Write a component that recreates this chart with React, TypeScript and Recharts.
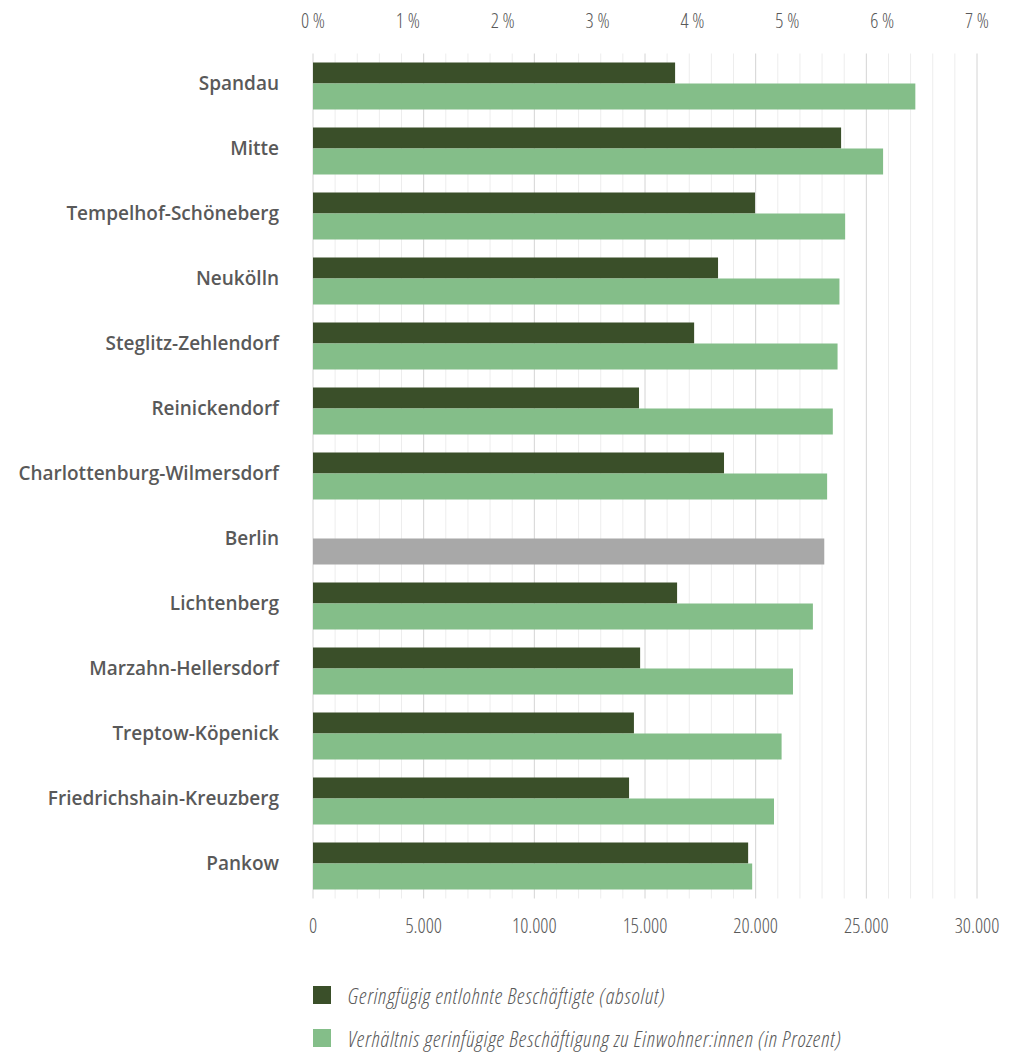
import React from "react";
import {
  Bar,
  BarChart,
  CartesianGrid,
  Cell,
  Legend,
  ReferenceLine,
  XAxis,
  YAxis,
} from "recharts";

const districts = [
  "Spandau",
  "Mitte",
  "Tempelhof-Schöneberg",
  "Neukölln",
  "Steglitz-Zehlendorf",
  "Reinickendorf",
  "Charlottenburg-Wilmersdorf",
  "Berlin",
  "Lichtenberg",
  "Marzahn-Hellersdorf",
  "Treptow-Köpenick",
  "Friedrichshain-Kreuzberg",
  "Pankow",
];

// geringfügig entlohnte Beschäftigte (absolut)
const absolute = [16360, 23860, 19970, 18300, 17220, 14730, 18570, null, 16450, 14780, 14500, 14280, 19660];
// Verhältnis zu Einwohner:innen (Prozent)
const percent = [6.35, 6.01, 5.61, 5.55, 5.53, 5.48, 5.42, 5.39, 5.27, 5.06, 4.94, 4.86, 4.63];

const absTicks = [0, 5000, 10000, 15000, 20000, 25000, 30000];
const pctTicks = [0, 1, 2, 3, 4, 5, 6, 7];
// light helper lines every 1.000
const minorGrid = Array.from({ length: 31 }, (_, i) => i * 1000).filter((v) => v % 5000 !== 0);

const DARK = "#3a4f29";
const LIGHT = "#84be89";
const GREY = "#a8a8a8";
const TEXT = "#595959";
const COND = "'Open Sans', 'Noto Sans', sans-serif";

const data = districts.map((name, i) => ({
  name,
  abs: absolute[i],
  pct: percent[i],
}));

const fmtAbs = (v: number) => v.toLocaleString("de-DE");

function DistrictTick(props: any) {
  const { x, y, payload } = props;
  return (
    <text
      x={x}
      y={y - 3}
      dy="0.35em"
      textAnchor="end"
      fill={TEXT}
      fontSize={19}
      fontWeight={600}
      fontFamily="'Open Sans', sans-serif"
    >
      {payload.value}
    </text>
  );
}

function LegendBox() {
  const items = [
    { label: "Geringfügig entlohnte Beschäftigte (absolut)", color: DARK },
    { label: "Verhältnis gerinfügige Beschäftigung zu Einwohner:innen (in Prozent)", color: LIGHT },
  ];
  return (
    <div style={{ paddingLeft: 313, paddingTop: 35 }}>
      {items.map((it, i) => (
        <div
          key={it.label}
          style={{ display: "flex", alignItems: "center", height: 22, marginTop: i ? 21 : 0 }}
        >
          <span style={{ width: 18, height: 18, background: it.color, display: "inline-block" }} />
          <span
            style={{
              marginLeft: 17,
              fontStyle: "italic",
              fontSize: 22,
              lineHeight: "22px",
              letterSpacing: 0.75,
              color: TEXT,
              fontFamily: COND,
              fontStretch: "condensed",
              fontWeight: 300,
              whiteSpace: "nowrap",
            }}
          >
            {it.label}
          </span>
        </div>
      ))}
    </div>
  );
}

const tickStyle = {
  fill: TEXT,
  fontSize: 20,
  fontFamily: COND,
  fontStretch: "condensed",
  fontWeight: 300,
};

export default function App() {
  return (
    <div style={{ position: "absolute", left: 0, top: 0, background: "#fff" }}>
      <BarChart
        width={1011}
        height={1052}
        data={data}
        layout="vertical"
        barGap={0}
        barCategoryGap={0}
        margin={{ top: 8, right: 34, bottom: 0, left: 0 }}
      >
        <CartesianGrid xAxisId="abs" horizontal={false} stroke="#d4d4d4" />
        {minorGrid.map((v) => (
          <ReferenceLine key={v} xAxisId="abs" x={v} stroke="#ededed" zIndex={-50} />
        ))}
        <XAxis
          xAxisId="pct"
          type="number"
          orientation="top"
          domain={[0, 7]}
          ticks={pctTicks}
          tickFormatter={(v) => `${v} %`}
          axisLine={false}
          tickLine={false}
          tickSize={0}
          tickMargin={26}
          height={45.5}
          tick={tickStyle}
        />
        <XAxis
          xAxisId="abs"
          type="number"
          orientation="bottom"
          domain={[0, 30000]}
          ticks={absTicks}
          interval={0}
          tickFormatter={fmtAbs}
          axisLine={false}
          tickLine={false}
          tickSize={0}
          tickMargin={20}
          height={50}
          tick={tickStyle}
        />
        <YAxis
          type="category"
          dataKey="name"
          width={313}
          axisLine={false}
          tickLine={false}
          tickSize={0}
          tickMargin={34}
          interval={0}
          tick={<DistrictTick />}
        />
        <Legend
          verticalAlign="bottom"
          content={() => <LegendBox />}
          wrapperStyle={{ height: 103.5, left: 0, width: 1011 }}
        />
        <Bar
          xAxisId="abs"
          dataKey="abs"
          fill={DARK}
          barSize={21}
          isAnimationActive={false}
        />
        <Bar
          xAxisId="pct"
          dataKey="pct"
          fill={LIGHT}
          barSize={26}
          isAnimationActive={false}
        >
          {data.map((d) => (
            <Cell key={d.name} fill={d.name === "Berlin" ? GREY : LIGHT} />
          ))}
        </Bar>
      </BarChart>
    </div>
  );
}
